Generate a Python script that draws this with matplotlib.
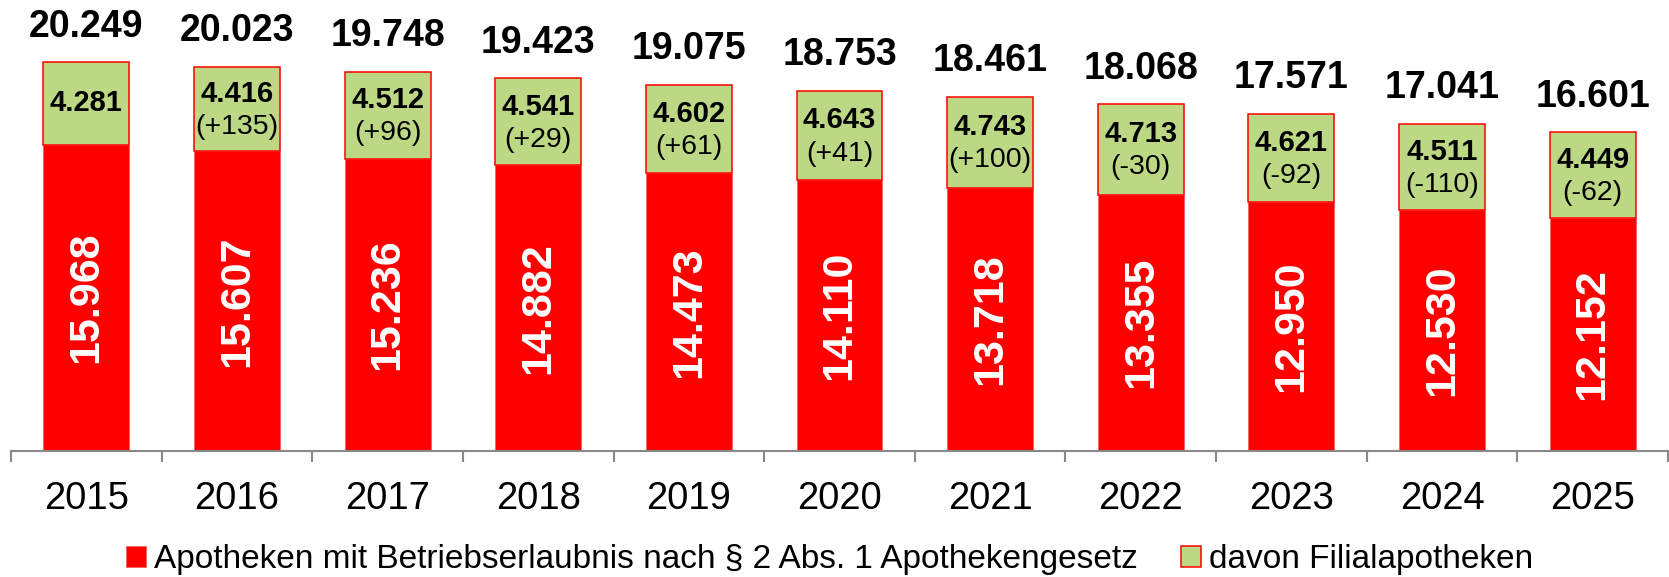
import matplotlib.pyplot as plt
import numpy as np

plt.rcParams['font.family'] = ['Liberation Sans', 'DejaVu Sans']

# Data
years = ['2015', '2016', '2017', '2018', '2019', '2020', '2021', '2022', '2023', '2024', '2025']
haupt = [15968, 15607, 15236, 14882, 14473, 14110, 13718, 13355, 12950, 12530, 12152]
filial = [4281, 4416, 4512, 4541, 4602, 4643, 4743, 4713, 4621, 4511, 4449]
gesamt = [20249, 20023, 19748, 19423, 19075, 18753, 18461, 18068, 17571, 17041, 16601]
aenderung = [None, '+135', '+96', '+29', '+61', '+41', '+100', '-30', '-92', '-110', '-62']

RED = '#ff0000'
GREEN = '#bdd884'

def fmt(v):
    # German thousands separator
    return f"{v:,}".replace(',', '.')

fig = plt.figure(figsize=(16.69, 5.77), dpi=100)
ax = fig.add_axes([11 / 1669, 126.3 / 577, 1657 / 1669, 0.761])

x = np.arange(len(years))
w = 0.57
ax.bar(x, haupt, w, color=RED, edgecolor='#ff6060', linewidth=0.6,
       label='Apotheken mit Betriebserlaubnis nach § 2 Abs. 1 Apothekengesetz')
ax.bar(x, filial, w, bottom=haupt, color=GREEN, edgecolor=RED, linewidth=1.1,
       label='davon Filialapotheken')

for i in range(len(years)):
    # total on top
    ax.annotate(fmt(gesamt[i]), (x[i], haupt[i] + filial[i]), xytext=(0, 18.5),
                textcoords='offset points', ha='center', va='baseline',
                fontsize=27, fontweight='bold')
    # main pharmacies, rotated in the red part
    ax.text(x[i], haupt[i] / 2, fmt(haupt[i]), rotation=90, ha='center', va='center',
            color='white', fontsize=31, fontweight='bold')
    # branch pharmacies in the green part
    mid = haupt[i] + filial[i] / 2
    if aenderung[i] is None:
        ax.text(x[i], mid, fmt(filial[i]), ha='center', va='center',
                fontsize=21, fontweight='bold')
    else:
        ax.annotate(fmt(filial[i]), (x[i], mid), xytext=(0, 11), textcoords='offset points',
                    ha='center', va='center', fontsize=21, fontweight='bold')
        ax.annotate(f"({aenderung[i]})", (x[i], mid), xytext=(0, -13), textcoords='offset points',
                    ha='center', va='center', fontsize=20.5)

ax.set_xlim(-0.5, len(years) - 0.5)
ax.set_ylim(0, 22900)
ax.set_yticks([])
for s in ['top', 'right', 'left']:
    ax.spines[s].set_visible(False)
ax.spines['bottom'].set_color('#898989')
ax.spines['bottom'].set_linewidth(1.5)

ax.set_xticks(x)
ax.set_xticklabels(years, fontsize=27.5)
ax.tick_params(axis='x', which='major', length=0, pad=22)
ax.set_xticks(np.arange(len(years) + 1) - 0.5, minor=True)
ax.tick_params(axis='x', which='minor', length=8, width=1.5, color='#898989')

fig.legend(loc='center', bbox_to_anchor=(0.497, 0.03), ncol=2, frameon=False,
           fontsize=24, handlelength=0.6, handleheight=0.6, handletextpad=0.25,
           columnspacing=1.3, borderaxespad=0)

plt.savefig('out.png', dpi=100)
